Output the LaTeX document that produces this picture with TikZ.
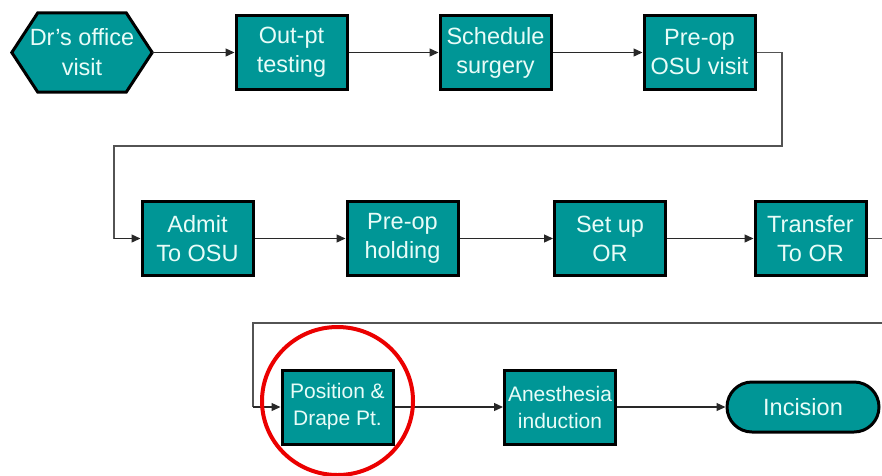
\documentclass[tikz,border=0pt]{standalone}
\usepackage{fontspec}
\setmainfont{Liberation Sans}
\usetikzlibrary{arrows.meta}
\definecolor{stepfill}{RGB}{0,150,150}
\definecolor{steptext}{RGB}{232,252,248}
\definecolor{wire}{RGB}{40,40,40}
\definecolor{ring}{RGB}{235,0,0}
\tikzset{
  stepbox/.style={rectangle, draw=black, line width=3pt, fill=stepfill,
    text=steptext, align=center, minimum width=111pt, minimum height=74pt,
    inner sep=0pt, font=\fontsize{23.5}{29}\selectfont},
  smallstep/.style={stepbox, font=\fontsize{21}{27}\selectfont},
  startbox/.style={rectangle, draw=none, text=steptext, align=center,
    minimum width=140pt, minimum height=79pt, inner sep=0pt,
    font=\fontsize{23.5}{30}\selectfont},
  endbox/.style={stepbox, rounded corners=25pt, minimum width=152pt,
    minimum height=50pt},
  flow/.style={draw=wire, line width=1.3pt,
    -{Triangle[length=9pt,width=8pt]}},
  route/.style={draw=wire!80, line width=1.3pt}
}
\begin{document}
\begin{tikzpicture}[x=1pt,y=-1pt]
\useasboundingbox (0,0) rectangle (882,475);
\clip (0,0) rectangle (882,475);

% first row
\node[startbox] (dr) at (82,52.5) {Dr’s office\\visit};
\draw[line width=3pt, fill=stepfill, line join=miter]
  (dr.west) -- ([xshift=26pt]dr.north west) -- ([xshift=-26pt]dr.north east)
  -- (dr.east) -- ([xshift=-26pt]dr.south east) -- ([xshift=26pt]dr.south west)
  -- cycle;
\node[startbox] at (dr.center) {Dr’s office\\visit};
\node[stepbox] (outpt) at (291.5,52.5) {Out-pt\\testing};
\node[stepbox] (sched) at (495.5,52.5) {Schedule\\surgery};
\node[stepbox] (preopv) at (699.5,52.5) {Pre-op\\OSU visit};

% second row
\node[stepbox] (admit) at (197.5,238.5) {Admit\\To OSU};
\node[stepbox] (hold) at (402.5,238.5) {Pre-op\\holding};
\node[stepbox] (setup) at (610,238.5) {Set up\\OR};
\node[stepbox] (xfer) at (810.5,238.5) {Transfer\\To OR};

% third row
\node[smallstep] (pos) at (337.5,407) {Position \&\\Drape Pt.};
\node[smallstep] (anes) at (560,407) {Anesthesia\\induction};
\node[endbox] (inc) at (803,407) {Incision};

% row turns and open ends
\coordinate (t1) at (782,52.5);
\coordinate (t2) at (782,146);
\coordinate (t3) at (114,146);
\coordinate (t4) at (114,238.5);
\coordinate (xout) at (884,238.5);
\coordinate (rin) at (884,323);
\coordinate (r2) at (253,323);
\coordinate (r3) at (253,407);

% connectors
\draw[flow] (dr.east) -- (outpt.west);
\draw[flow] (outpt.east) -- (sched.west);
\draw[flow] (sched.east) -- (preopv.west);
\draw[route] (preopv.east) -- (t1) -- (t2) -- (t3) -- (t4);
\draw[flow] (t4) -- (admit.west);
\draw[flow] (admit.east) -- (hold.west);
\draw[flow] (hold.east) -- (setup.west);
\draw[flow] (setup.east) -- (xfer.west);
\draw[route] (xfer.east) -- (xout);
\draw[route] (rin) -- (r2) -- (r3);
\draw[flow] (r3) -- (pos.west);
\draw[flow] (pos.east) -- (anes.west);
\draw[flow] (anes.east) -- (inc.west);

% highlight ring
\draw[ring, line width=4pt] (pos.center) ++(0,-6) ellipse [x radius=75.5pt, y radius=74pt];
\end{tikzpicture}
\end{document}
